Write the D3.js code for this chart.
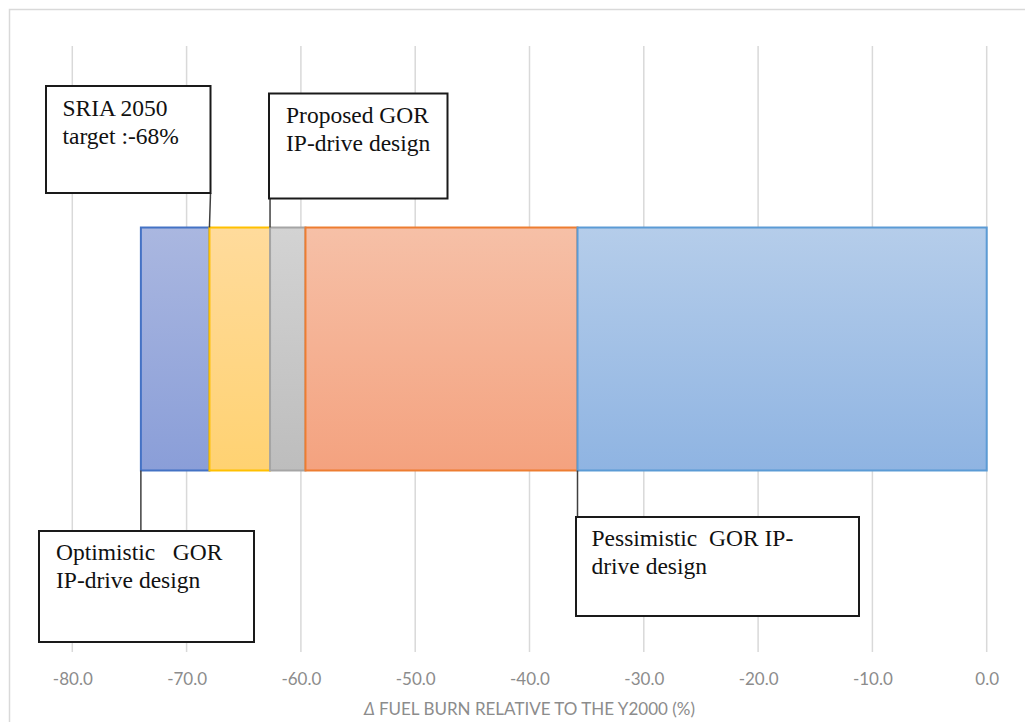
<!DOCTYPE html>
<html>
<head>
<meta charset="utf-8">
<script src="https://cdn.jsdelivr.net/npm/d3@7"></script>
<style>
  html, body { margin: 0; padding: 0; background: #fff; }
  svg { display: block; }
</style>
</head>
<body>
<svg id="chart" width="1025" height="722"></svg>
<script>
// Fuel-burn reduction bands, stacked along one horizontal bar (% vs Y2000)
const category = ["Fuel burn"];
const segNames = ["Optimistic", "Target", "Proposed", "Intermediate", "Pessimistic"];
const segStart = [-74, -68, -62.7, -59.6, -35.8];
const segEnd   = [-68, -62.7, -59.6, -35.8, 0];
const segFillTop    = ["#aab7e0", "#ffdb9c", "#d3d3d3", "#f6c0a7", "#b5cdea"];
const segFillBottom = ["#8a9ed8", "#ffd272", "#bdbdbd", "#f4a27f", "#8fb4e2"];
const segStroke     = ["#4472c4", "#ffc000", "#a5a5a5", "#ed7d31", "#5b9bd5"];

const tickValues = [-80, -70, -60, -50, -40, -30, -20, -10, 0];
const axisTitle = "FUEL BURN RELATIVE TO THE Y2000 (%)";

// Callouts: text lines and the bar edge value each one points to
const calloutLines = [
  ["SRIA 2050", "target :-68%"],
  ["Proposed GOR", "IP-drive design"],
  ["Optimistic   GOR", "IP-drive design"],
  ["Pessimistic  GOR IP-", "drive design"]
];
const calloutValue = [-68, -62.7, -74, -35.8];
const calloutSide  = ["top", "top", "bottom", "bottom"];

const svg = d3.select("#chart");

// chart frame
svg.append("rect")
  .attr("x", 9.5).attr("y", 9.5)
  .attr("width", 1030).attr("height", 730)
  .attr("fill", "#fff").attr("stroke", "#d9d9d9").attr("stroke-width", 1.5);

const plot = { left: 72.3, right: 986.7, top: 46, bottom: 652 };

const x = d3.scaleLinear().domain([-80, 0]).range([plot.left, plot.right]);
const y = d3.scaleBand().domain(category).range([plot.top, plot.bottom])
  .paddingInner(0.4276).paddingOuter(0.4276);

// vertical gridlines
svg.append("g").selectAll("line")
  .data(tickValues).join("line")
  .attr("x1", d => x(d)).attr("x2", d => x(d))
  .attr("y1", plot.top).attr("y2", plot.bottom)
  .attr("stroke", "#d9d9d9").attr("stroke-width", 1.5);

// tick labels via the axis generator
const axis = d3.axisBottom(x).tickValues(tickValues)
  .tickFormat(d3.format(".1f")).tickSize(0).tickPadding(0);
const axisG = svg.append("g")
  .attr("transform", `translate(0,${plot.bottom + 21})`)
  .call(axis);
axisG.select(".domain").remove();
axisG.selectAll("text")
  .attr("fill", "#8c8c8c")
  .attr("font-family", "Lato, 'Open Sans', sans-serif")
  .attr("font-size", 17)
  .text(d => d3.format(".1f")(d).replace("−", "-"));

// axis title
const title = svg.append("text")
  .attr("x", (plot.left + plot.right) / 2).attr("y", 715)
  .attr("text-anchor", "middle")
  .attr("fill", "#8c8c8c")
  .attr("font-family", "Lato, 'Open Sans', sans-serif")
  .attr("font-size", 17);
title.append("tspan").attr("font-style", "italic").text("Δ ");
title.append("tspan").text(axisTitle);

// gradients
const defs = svg.append("defs");
segNames.forEach((n, i) => {
  const g = defs.append("linearGradient").attr("id", "grad" + i)
    .attr("x1", 0).attr("y1", 0).attr("x2", 0).attr("y2", 1);
  g.append("stop").attr("offset", "0%").attr("stop-color", segFillTop[i]);
  g.append("stop").attr("offset", "100%").attr("stop-color", segFillBottom[i]);
});

// bar segments
const segData = segNames.map((n, i) => ({ name: n, start: segStart[i], end: segEnd[i], i }));
svg.append("g").selectAll("rect")
  .data(segData).join("rect")
  .attr("x", d => x(d.start))
  .attr("y", y(category[0]))
  .attr("width", d => x(d.end) - x(d.start))
  .attr("height", y.bandwidth())
  .attr("fill", d => `url(#grad${d.i})`)
  .attr("stroke", d => segStroke[d.i])
  .attr("stroke-width", 2);

// callout boxes (positions in px)
const boxes = [
  { x: 46, y: 86, w: 164.5, h: 107, tx: 62.5, ty: 115.5 },
  { x: 269, y: 93.5, w: 178.5, h: 105, tx: 286, ty: 123 },
  { x: 39, y: 531, w: 215, h: 111, tx: 56, ty: 560 },
  { x: 576, y: 517, w: 283, h: 99, tx: 591.5, ty: 546 }
];
const barTop = y(category[0]);
const barBottom = barTop + y.bandwidth();

const callouts = svg.append("g");
boxes.forEach((b, i) => {
  const ax = x(calloutValue[i]);
  // leader line
  if (calloutSide[i] === "top") {
    callouts.append("line")
      .attr("x1", i === 0 ? b.x + b.w : ax).attr("y1", b.y + b.h)
      .attr("x2", ax).attr("y2", barTop)
      .attr("stroke", "#404040").attr("stroke-width", 1.5);
  } else {
    callouts.append("line")
      .attr("x1", ax).attr("y1", barBottom)
      .attr("x2", ax).attr("y2", b.y)
      .attr("stroke", "#404040").attr("stroke-width", 1.5);
  }
  callouts.append("rect")
    .attr("x", b.x).attr("y", b.y).attr("width", b.w).attr("height", b.h)
    .attr("fill", "#fff").attr("stroke", "#1a1a1a").attr("stroke-width", 2);
  const t = callouts.append("text")
    .attr("font-family", "'Liberation Serif', 'Times New Roman', serif")
    .attr("font-size", 23.5).attr("fill", "#111")
    .attr("xml:space", "preserve");
  calloutLines[i].forEach((line, k) => {
    t.append("tspan").attr("x", b.tx).attr("y", b.ty + k * 28).text(line);
  });
});
</script>
</body>
</html>
